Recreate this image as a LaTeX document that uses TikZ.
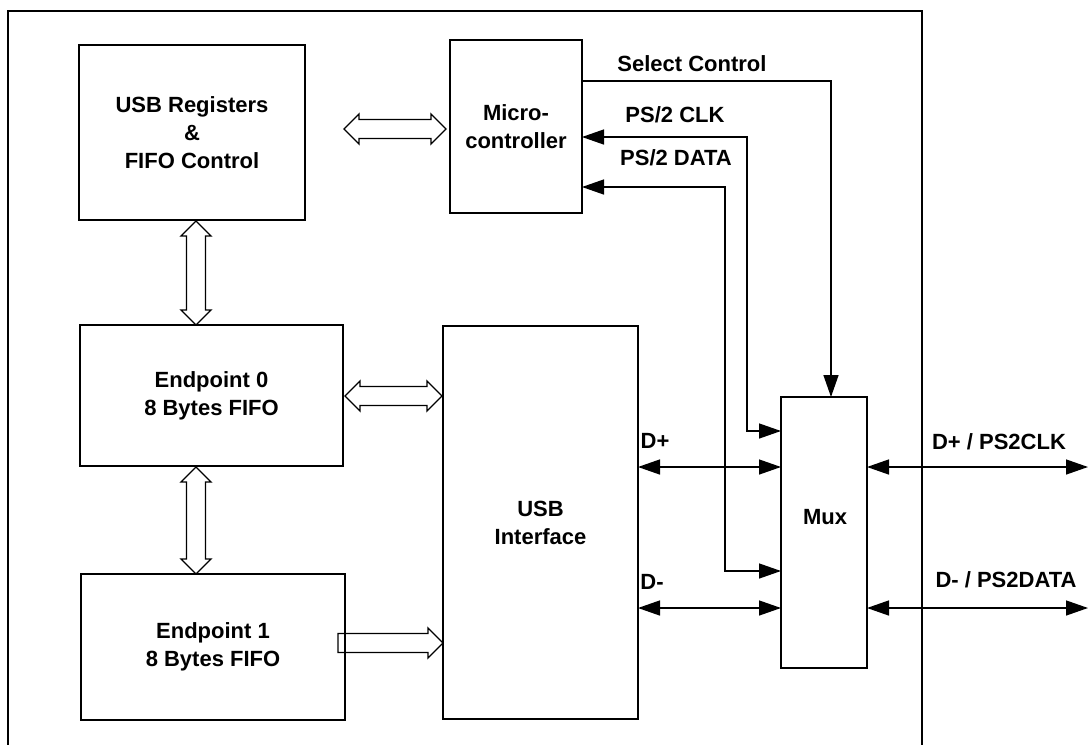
\documentclass[tikz,border=0pt]{standalone}
\usepackage{fontspec}
\setmainfont{Liberation Sans}
\usetikzlibrary{arrows.meta,calc}

\tikzset{
  block/.style={draw,line width=0.7pt,inner sep=0pt,outer sep=0pt,align=center},
  sig/.style={line width=0.7pt,-{Triangle[length=11pt,width=7.5pt]}},
  bisig/.style={line width=0.7pt,{Triangle[length=11pt,width=7.5pt]}-{Triangle[length=11pt,width=7.5pt]}},
  bus/.style={draw,line width=0.7pt,line join=miter},
}

% hollow bus arrows: head length, head half width, shaft half width
\def\bushead{7.5pt}
\def\busw{7.5pt}
\def\buss{4.75pt}
\newcommand{\busboth}[2]{%
  \draw[bus] (#1) -- ($(#1)!\bushead!(#2)!\busw!90:(#2)$)
    -- ($(#1)!\bushead!(#2)!\buss!90:(#2)$) -- ($(#2)!\bushead!(#1)!\buss!-90:(#1)$)
    -- ($(#2)!\bushead!(#1)!\busw!-90:(#1)$) -- (#2)
    -- ($(#2)!\bushead!(#1)!\busw!90:(#1)$) -- ($(#2)!\bushead!(#1)!\buss!90:(#1)$)
    -- ($(#1)!\bushead!(#2)!\buss!-90:(#2)$) -- ($(#1)!\bushead!(#2)!\busw!-90:(#2)$)
    -- cycle;}
\newcommand{\busone}[2]{%
  \draw[bus] ($(#1)!\buss!90:(#2)$) -- ($(#2)!\bushead!(#1)!\buss!-90:(#1)$)
    -- ($(#2)!\bushead!(#1)!\busw!-90:(#1)$) -- (#2)
    -- ($(#2)!\bushead!(#1)!\busw!90:(#1)$) -- ($(#2)!\bushead!(#1)!\buss!90:(#1)$)
    -- ($(#1)!\buss!-90:(#2)$) -- cycle;}

\begin{document}
\begin{tikzpicture}[x=0.5pt,y=-0.5pt,font=\fontsize{11}{14}\selectfont\bfseries]
\useasboundingbox (0,0) rectangle (1089,745);
\draw[line width=0.7pt] (8,745) -- (8,11) -- (922,11) -- (922,745);

\node[block,minimum width=113pt,minimum height=87.5pt] (usbreg) at (192,132.5)
  {USB Registers\\\&\\FIFO Control};
\node[block,minimum width=66pt,minimum height=86.5pt] (micro) at (516,126.5)
  {Micro-\\controller};
\node[block,minimum width=131.5pt,minimum height=70.5pt] (ep0) at (211.5,395.5)
  {Endpoint 0\\8 Bytes FIFO};
\node[block,minimum width=132pt,minimum height=73pt] (ep1) at (213,647)
  {Endpoint 1\\8 Bytes FIFO};
\node[block,minimum width=97.5pt,minimum height=196.5pt] (usbif) at (540.5,522.5)
  {USB\\Interface};
\node[block,minimum width=43pt,minimum height=135.5pt] (mux) at (824,532.5) {};
\node (muxtext) at (825,517) {Mux};

% bus arrows
\coordinate (b1a) at (344,129);   \coordinate (b1b) at (446,129);
\coordinate (b2a) at (196,221);   \coordinate (b2b) at (196,325);
\coordinate (b3a) at (345,396);   \coordinate (b3b) at (442,396);
\coordinate (b4a) at (196,467);   \coordinate (b4b) at (196,574);
\coordinate (b5a) at (338,643);   \coordinate (b5b) at (443,643);
\busboth{b1a}{b1b}
\busboth{b2a}{b2b}
\busboth{b3a}{b3b}
\busboth{b4a}{b4b}
\busone{b5a}{b5b}

% control lines
\coordinate (selc) at (831,81);
\coordinate (clktop) at (747,137);
\coordinate (clkbot) at (747,431);
\coordinate (dattop) at (725,187);
\coordinate (datbot) at (725,571);
\draw[sig] (selc -| micro.east) -- (selc) -- (selc |- mux.north);
\draw[bisig] (clktop -| micro.east) -- (clktop) -- (clkbot) -- (clkbot -| mux.west);
\draw[bisig] (dattop -| micro.east) -- (dattop) -- (datbot) -- (datbot -| mux.west);

\coordinate (dp) at (1088,467);
\coordinate (dm) at (1088,608);
\draw[bisig] (dp -| usbif.east) -- (dp -| mux.west);
\draw[bisig] (dm -| usbif.east) -- (dm -| mux.west);
\draw[bisig] (dp -| mux.east) -- (dp);
\draw[bisig] (dm -| mux.east) -- (dm);

\node (selclbl) at (692,64) {Select Control};
\node (clklbl) at (675,115) {PS/2 CLK};
\node (datlbl) at (676,158) {PS/2 DATA};
\node (dplbl) at (655,441) {D+};
\node (dmlbl) at (652,582) {D-};
\node (dpout) at (999,442) {D+ / PS2CLK};
\node (dmout) at (1006,580) {D- / PS2DATA};
\end{tikzpicture}
\end{document}
